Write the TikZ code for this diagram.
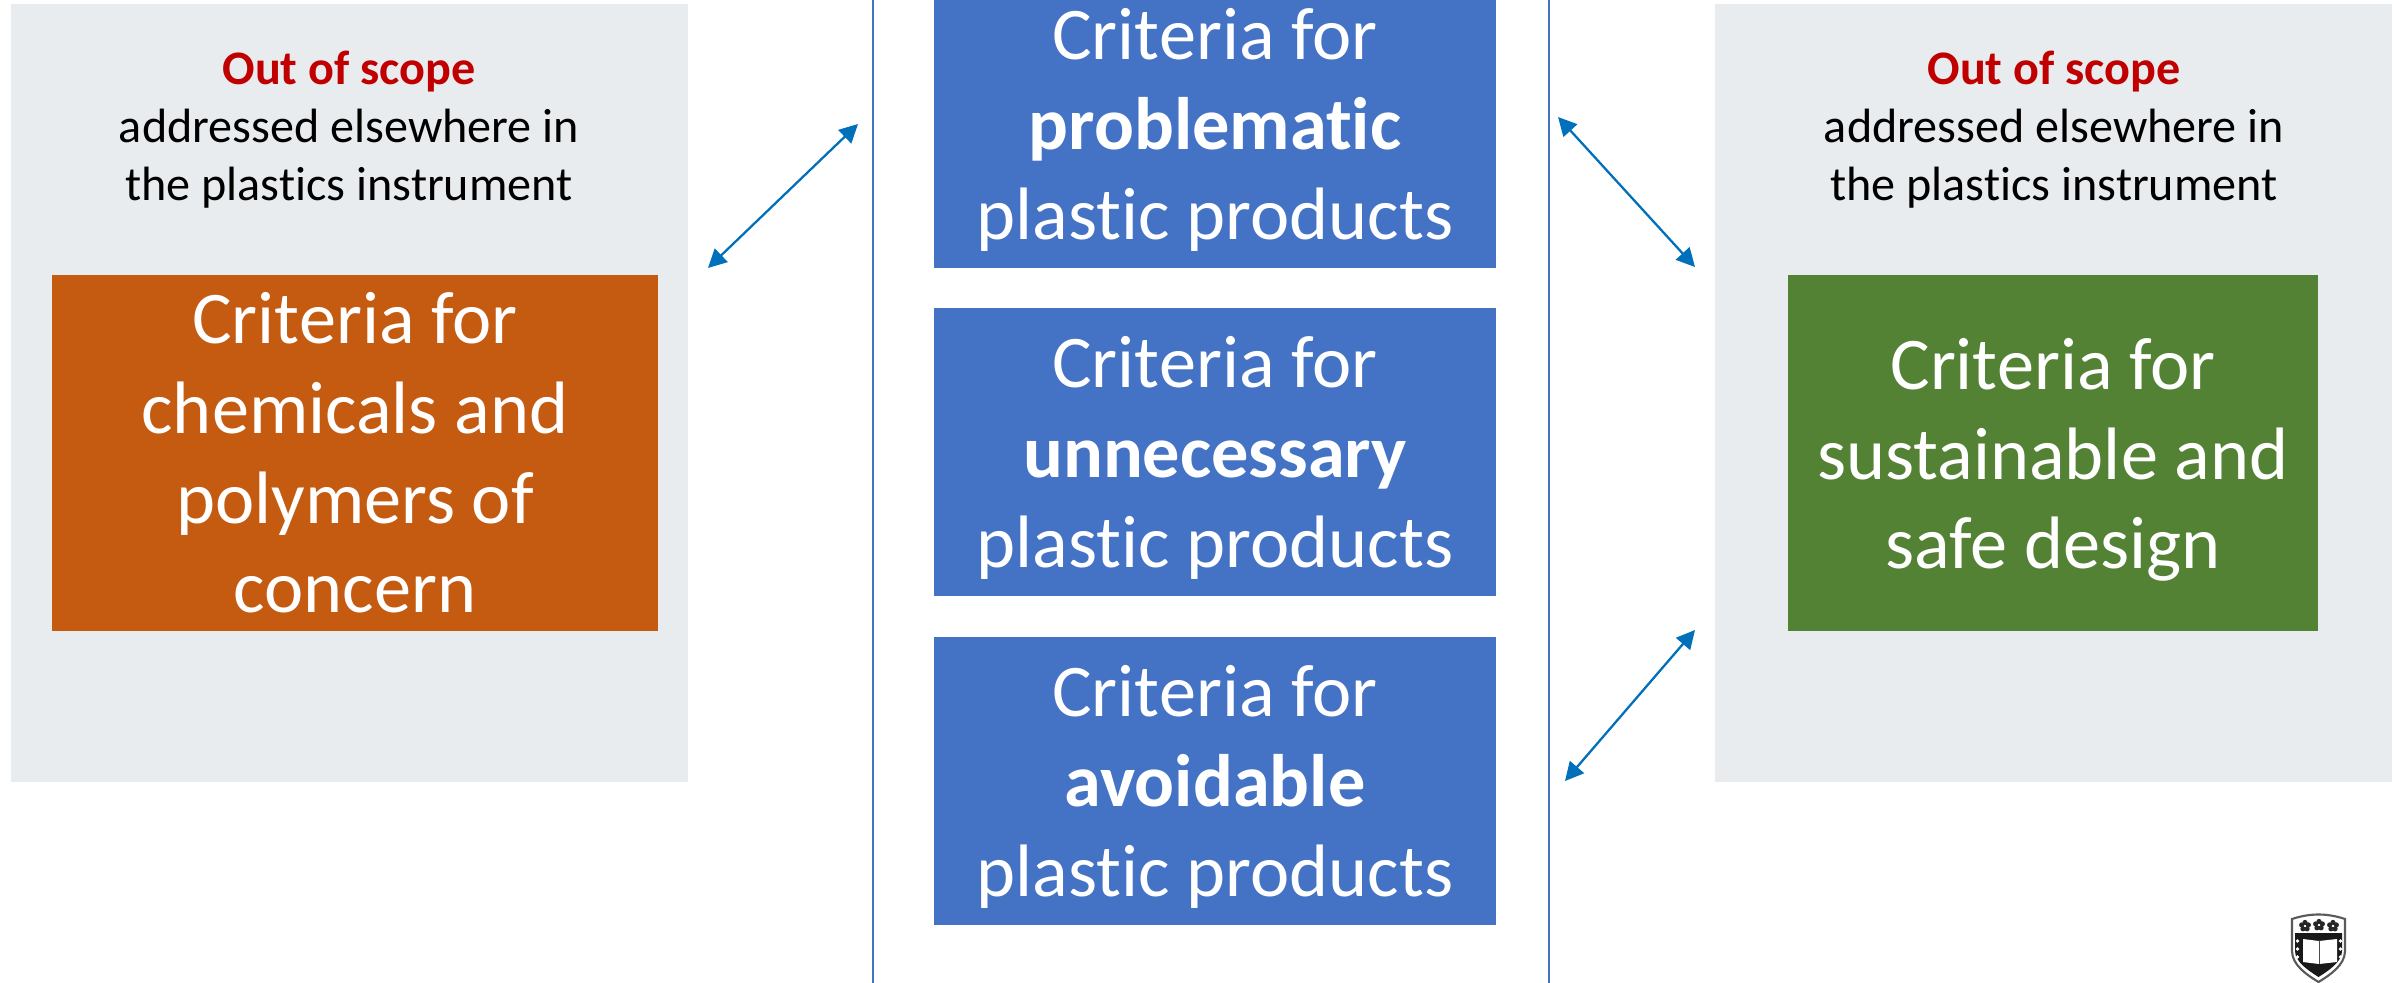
\documentclass[tikz,border=0pt]{standalone}
\usepackage{fontspec}
\setmainfont{Carlito}[RawFeature={-liga}]
\usetikzlibrary{arrows.meta}

\definecolor{panelgray}{HTML}{E9ECEF}
\definecolor{critblue}{HTML}{4472C4}
\definecolor{arrowblue}{HTML}{0070BA}
\definecolor{critorange}{HTML}{C55A11}
\definecolor{critgreen}{HTML}{548235}
\definecolor{scopered}{HTML}{C00000}

\tikzset{
    panel/.style={fill=panelgray,minimum width=677*0.02cm,minimum height=778*0.02cm,inner sep=0},
    critbox/.style={inner sep=0,minimum height=#1*0.02cm},
    crit/.style={text=white,align=center,inner sep=0,
        font=\fontsize{42.3}{51}\selectfont},
    scopetext/.style={align=center,inner sep=0,
        font=\fontsize{27.4}{33}\selectfont},
    link/.style={<->,draw=arrowblue,line width=1.3pt},
    rule/.style={draw=critblue,line width=1.3pt}
}

\begin{document}
\begin{tikzpicture}[x=0.02cm,y=-0.02cm,>={Triangle[length=10.5pt,width=10.5pt]}]

\clip (0,0) rectangle (2405,983);

\node[panel] (left) at (349.5,393) {};
\node[panel] (right) at (2053.5,393) {};

\node[scopetext] (left-text) at (349,130) {\textcolor{scopered}{\textbf{Out of scope}}\\addressed elsewhere in\\the plastics instrument};
\node[scopetext] (right-text) at (2054,130) {\textcolor{scopered}{\textbf{Out of scope}}\\addressed elsewhere in\\the plastics instrument};

\node[critbox=356,fill=critorange,minimum width=606*0.02cm] (chem) at (355,453) {};
\node[crit] (chem-text) at (355,453) {Criteria for\\chemicals and\\polymers of\\concern};
\node[critbox=356,fill=critgreen,minimum width=530*0.02cm] (safe) at (2053,453) {};
\node[crit] (safe-text) at (2053,460) {Criteria for\\sustainable and\\safe design};

\foreach \name/\word/\y in {prob/problematic/124,unnec/unnecessary/452,avoid/avoidable/781}{
    \node[critbox=288,fill=critblue,minimum width=562*0.02cm] (\name) at (1215,\y) {};
    \node[crit,yshift=-6*0.02cm] (\name-text) at (\name) {Criteria for\\\textbf{\word}\\plastic products};
}

\coordinate (rule-a-top) at (873,0);
\coordinate (rule-a-bot) at (873,983);
\coordinate (rule-b-top) at (1549,0);
\coordinate (rule-b-bot) at (1549,983);
\draw[rule] (rule-a-top) -- (rule-a-bot);
\draw[rule] (rule-b-top) -- (rule-b-bot);

\coordinate (a1) at (708,268);
\coordinate (a2) at (858,124);
\coordinate (b1) at (1558,117);
\coordinate (b2) at (1695,267);
\coordinate (c1) at (1565,781);
\coordinate (c2) at (1695,630);
\draw[link] (a1) -- (a2);
\draw[link] (b1) -- (b2);
\draw[link] (c1) -- (c2);

% crest
\begin{scope}[shift={(2292,913)}]
    \draw[fill=white,draw=black!65,line width=1.2pt] (0,6) .. controls (18,0) and (35,0) .. (53,6) -- (53,38) .. controls (53,52) and (38,62) .. (26.5,69) .. controls (15,62) and (0,52) .. (0,38) -- cycle;
    \fill[black!90] (3,20) -- (50,20) -- (50,38) .. controls (50,49) and (36,58) .. (26.5,64) .. controls (17,58) and (3,49) .. (3,38) -- cycle;
    \foreach \x/\yy in {13/13,27/12,41/13}{
        \foreach \a in {90,162,234,306,18}
            \fill[black!85] (\x,\yy) ++(\a:-3.5) circle (2.6);
        \fill[white] (\x,\yy) circle (1);
    }
    \fill[white] (11,26) -- (27,28) -- (45,26) -- (45,49) -- (27,51) -- (11,49) -- cycle;
    \draw[black!70,line width=0.5pt] (27,28) -- (27,51);
    \foreach \yy in {28,36,44}{
        \fill[white] (5.5,\yy) circle (1.8);
        \fill[white] (48.5,\yy) circle (1.8);
    }
\end{scope}

\end{tikzpicture}
\end{document}
